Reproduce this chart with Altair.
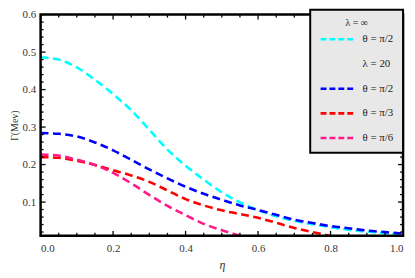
import altair as alt
import pandas as pd

# ---- data ----
eta = [0.0, 0.05, 0.1, 0.15, 0.2, 0.25, 0.3, 0.35, 0.4, 0.45, 0.5,
       0.55, 0.6, 0.65, 0.7, 0.75, 0.8, 0.85, 0.9, 0.95, 1.0]

gamma_inf_pi2 = [0.486, 0.480, 0.459, 0.426, 0.388, 0.345, 0.293, 0.240, 0.197, 0.160, 0.126,
                 0.099, 0.078, 0.062, 0.050, 0.041, 0.033, 0.026, 0.021, 0.017, 0.013]
gamma_20_pi2 = [0.284, 0.282, 0.275, 0.259, 0.238, 0.213, 0.187, 0.163, 0.141, 0.122, 0.106,
                0.091, 0.079, 0.066, 0.053, 0.044, 0.036, 0.030, 0.024, 0.020, 0.016]
gamma_20_pi3 = [0.220, 0.218, 0.210, 0.199, 0.185, 0.171, 0.154, 0.131, 0.108, 0.091, 0.078,
                0.068, 0.058, 0.045, 0.031, 0.020, 0.010]
gamma_20_pi6 = [0.227, 0.224, 0.213, 0.199, 0.178, 0.150, 0.119, 0.090, 0.065, 0.042, 0.025,
                0.010]

series_names = ["λ = ∞, θ = π/2", "λ = 20, θ = π/2", "λ = 20, θ = π/3", "λ = 20, θ = π/6"]
series_values = [gamma_inf_pi2, gamma_20_pi2, gamma_20_pi3, gamma_20_pi6]

legend_domain = ["λ = ∞, θ = π/2", "λ = 20", "λ = 20, θ = π/2", "λ = 20, θ = π/3", "λ = 20, θ = π/6"]
legend_colors = ["#00ffff", "rgba(0,0,0,0)", "#0000ff", "#ff0000", "#ff1a8c"]

x_major = [0.0, 0.2, 0.4, 0.6, 0.8, 1.0]
x_minor = [0.05, 0.1, 0.15, 0.25, 0.3, 0.35, 0.45, 0.5,
           0.55, 0.65, 0.7, 0.75, 0.85, 0.9, 0.95]
y_major = [0.1, 0.2, 0.3, 0.4, 0.5, 0.6]
y_minor = [0.02, 0.04, 0.06, 0.08, 0.12, 0.14, 0.16, 0.18, 0.22, 0.24, 0.26, 0.28,
           0.32, 0.34, 0.36, 0.38, 0.42, 0.44, 0.46, 0.48, 0.52, 0.54, 0.56, 0.58]

rows = []
for name, vals in zip(series_names, series_values):
    for e, g in zip(eta, vals):
        rows.append({"eta": e, "gamma": g, "series": name})
df = pd.DataFrame(rows)

FONT = "Liberation Serif"
W, H = 367, 224
xscale = alt.Scale(domain=[0, 1], nice=False, zero=False)
yscale = alt.Scale(domain=[0.01, 0.6], nice=False, zero=False)

x_axis = alt.Axis(values=x_major, format=".1f", ticks=False, domain=False, grid=False,
                  labelPadding=7, labelFont=FONT, labelFontSize=11, labelColor="#333",
                  title="η", titleFont=FONT, titleFontStyle="italic", titleFontWeight="normal",
                  titleFontSize=12, titlePadding=6, titleColor="#333")
y_axis = alt.Axis(values=y_major, format=".1f", ticks=False, domain=False, grid=False,
                  labelPadding=5, labelFont=FONT, labelFontSize=11, labelColor="#333",
                  title="Γ(Mev)", titleFont=FONT, titleFontWeight="normal",
                  titleFontSize=10, titlePadding=3, titleColor="#333")

lines = alt.Chart(df).mark_line(
    strokeDash=[8, 4.5], strokeWidth=2.6, interpolate="monotone", clip=True
).encode(
    x=alt.X("eta:Q", scale=xscale, axis=x_axis, title="η"),
    y=alt.Y("gamma:Q", scale=yscale, axis=y_axis, title="Γ(Mev)"),
    color=alt.Color("series:N", scale=alt.Scale(domain=legend_domain, range=legend_colors),
                    legend=alt.Legend(
                        title="λ = ∞", orient="none", legendX=273, legendY=-5,
                        titleFont=FONT, titleFontSize=10, titleFontWeight="normal",
                        titleAnchor="middle", titleColor="#222", titlePadding=-8,
                        labelFont=FONT, labelFontSize=11, labelColor="#222", labelOffset=6,
                        labelExpr="datum.value == 'λ = 20' ? datum.value : split(datum.value, ', ')[1]",
                        symbolType="stroke", symbolSize=1225, symbolStrokeWidth=2.6,
                        symbolDash=[6, 3], rowPadding=-9, padding=9,
                        fillColor="#e8e8e8", strokeColor="black")),
)


def x_ticks(values, size, top):
    d = pd.DataFrame({"t": values})
    y0, y1 = (0, size) if top else (H, H - size)
    return alt.Chart(d).mark_rule(color="black", strokeWidth=1.3).encode(
        x=alt.X("t:Q", scale=xscale, axis=x_axis, title="η"), y=alt.value(y0), y2=alt.value(y1))


def y_ticks(values, size, right):
    d = pd.DataFrame({"t": values})
    x0, x1 = (W, W - size) if right else (0, size)
    return alt.Chart(d).mark_rule(color="black", strokeWidth=1.3).encode(
        y=alt.Y("t:Q", scale=yscale, axis=y_axis, title="Γ(Mev)"), x=alt.value(x0), x2=alt.value(x1))


frame = alt.Chart(pd.DataFrame({"f": [0]})).mark_rect(
    fillOpacity=0, stroke="black", strokeWidth=2.5
).encode(x=alt.value(0), x2=alt.value(W), y=alt.value(0), y2=alt.value(H))

layers = [lines,
          x_ticks(x_minor, 3, False), x_ticks(x_major, 5, False),
          x_ticks(x_minor, 3, True), x_ticks(x_major, 5, True),
          y_ticks(y_minor, 3, False), y_ticks(y_major, 5, False),
          y_ticks(y_minor, 3, True), y_ticks(y_major, 5, True),
          frame]

chart = alt.layer(*layers).properties(
    width=W, height=H,
    autosize=alt.AutoSizeParams(type="none"),
    padding={"left": 33, "top": 5, "right": 4, "bottom": 38},
).configure_view(stroke=None).configure_legend(strokeWidth=2)

chart.save("out.html", embed_options={"renderer": "svg", "actions": False})
